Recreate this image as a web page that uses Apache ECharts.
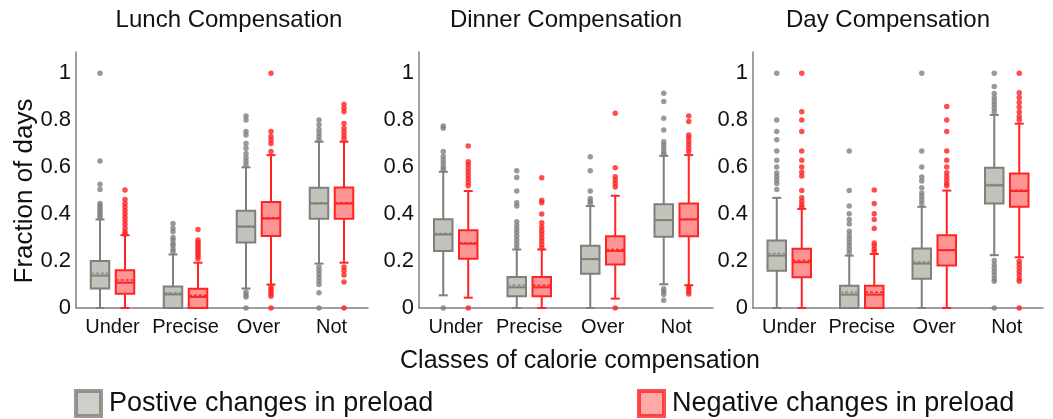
<!DOCTYPE html>
<html>
<head>
<meta charset="utf-8">
<script src="https://cdn.jsdelivr.net/npm/echarts@6/dist/echarts.min.js"></script>
<style>html,body{margin:0;padding:0;background:#fff;}#c{width:1053px;height:419px;}</style>
</head>
<body>
<div id="c"></div>
<script>
const categories = ['Under', 'Precise', 'Over', 'Not'];
const panelTitles = ['Lunch Compensation', 'Dinner Compensation', 'Day Compensation'];
const yTicks = [0, 0.2, 0.4, 0.6, 0.8, 1];
const POS = 'Postive changes in preload';
const NEG = 'Negative changes in preload';

// stats per category: [low whisker, Q1, median, Q3, high whisker, mean]
const lunchPos = [[0, 0.083, 0.138, 0.200, 0.377, 0.148], [0, 0, 0.058, 0.092, 0.228, 0.065], [0.083, 0.279, 0.347, 0.414, 0.599, 0.345], [0.189, 0.380, 0.445, 0.512, 0.708, 0.448]];
const lunchNeg = [[0, 0.061, 0.108, 0.161, 0.310, 0.119], [0, 0, 0.047, 0.082, 0.193, 0.054], [0.100, 0.307, 0.381, 0.451, 0.651, 0.384], [0.193, 0.380, 0.445, 0.513, 0.708, 0.448]];
const dinnerPos = [[0.054, 0.243, 0.313, 0.378, 0.580, 0.317], [0, 0.050, 0.088, 0.132, 0.249, 0.098], [0, 0.146, 0.208, 0.265, 0.434, 0.209], [0.101, 0.303, 0.374, 0.442, 0.648, 0.375]];
const dinnerNeg = [[0.044, 0.210, 0.274, 0.331, 0.498, 0.277], [0, 0.050, 0.088, 0.132, 0.249, 0.097], [0.040, 0.185, 0.243, 0.306, 0.478, 0.249], [0.097, 0.306, 0.377, 0.445, 0.651, 0.378]];
const dayPos = [[0, 0.159, 0.223, 0.287, 0.469, 0.232], [0, 0, 0.057, 0.095, 0.223, 0.067], [0, 0.125, 0.189, 0.253, 0.431, 0.196], [0.225, 0.445, 0.522, 0.597, 0.822, 0.526]];
const dayNeg = [[0, 0.131, 0.195, 0.252, 0.422, 0.202], [0, 0, 0.057, 0.095, 0.230, 0.067], [0, 0.181, 0.246, 0.310, 0.500, 0.248], [0.216, 0.431, 0.498, 0.573, 0.785, 0.501]];

// outliers per category
const lunchPosOut = [[1.0, 0.626, 0.527, 0.505, 0.445, 0.435, 0.425, 0.415, 0.405, 0.395, 0.385], [0.36, 0.34, 0.325, 0.30, 0.29, 0.275, 0.265, 0.25, 0.24], [0.818, 0.80, 0.751, 0.737, 0.70, 0.68, 0.658, 0.64, 0.625, 0.61, 0.068, 0.055, 0.047, 0], [0.80, 0.78, 0.76, 0.745, 0.73, 0.715, 0.175, 0.16, 0.145, 0.13, 0.115, 0.10, 0.065, 0]];
const lunchNegOut = [[0.502, 0.462, 0.445, 0.43, 0.415, 0.40, 0.385, 0.37, 0.355, 0.34, 0.325, 0.315], [0.334, 0.289, 0.28, 0.27, 0.26, 0.25, 0.24, 0.23, 0.22, 0.21], [1.0, 0.751, 0.73, 0.715, 0.70, 0.666, 0.09, 0.08, 0.07, 0.06, 0.05, 0], [0.867, 0.85, 0.836, 0.786, 0.765, 0.75, 0.735, 0.72, 0.175, 0.16, 0.14, 0.111, 0]];
const dinnerPosOut = [[0.775, 0.765, 0.666, 0.645, 0.63, 0.615, 0.60, 0.59, 0], [0.584, 0.556, 0.498, 0.448, 0.434, 0.367, 0.35, 0.335, 0.32, 0.305, 0.29, 0.275, 0.26], [0.644, 0.584, 0.498, 0.466, 0.455, 0.445], [0.914, 0.879, 0.808, 0.758, 0.708, 0.695, 0.68, 0.665, 0.655, 0.082, 0.07, 0.058, 0.033]];
const dinnerNegOut = [[0.69, 0.623, 0.61, 0.595, 0.58, 0.565, 0.55, 0.535, 0.52, 0], [0.555, 0.459, 0.448, 0.40, 0.363, 0.345, 0.33, 0.315, 0.30, 0.285, 0.27, 0.255], [0.829, 0.597, 0.559, 0.545, 0.53, 0.515, 0], [0.818, 0.794, 0.737, 0.725, 0.71, 0.695, 0.68, 0.665, 0.09, 0.08, 0.07, 0.06]];
const dayPosOut = [[1.0, 0.80, 0.751, 0.716, 0.669, 0.629, 0.60, 0.575, 0.56, 0.545, 0.53, 0.505], [0.669, 0.50, 0.434, 0.401, 0.377, 0.358, 0.327, 0.31, 0.295, 0.28, 0.265, 0.25, 0.235], [1.0, 0.669, 0.60, 0.558, 0.541, 0.512, 0.49, 0.475, 0.46, 0.445], [1.0, 0.943, 0.913, 0.895, 0.88, 0.865, 0.85, 0.835, 0.202, 0.185, 0.17, 0.155, 0.14, 0.125, 0.114, 0]];
const dayNegOut = [[1.0, 0.836, 0.80, 0.751, 0.669, 0.629, 0.60, 0.579, 0.562, 0.50, 0.469, 0.455, 0.44, 0.43], [0.502, 0.445, 0.401, 0.377, 0.339, 0.277, 0.265, 0.25, 0.24], [0.858, 0.80, 0.751, 0.669, 0.629, 0.60, 0.576, 0.56, 0.545, 0.53, 0.52], [1.0, 0.917, 0.896, 0.875, 0.855, 0.835, 0.815, 0.80, 0.199, 0.185, 0.17, 0.155, 0.14, 0.125, 0.114, 0]];

const panels = [
  {pos: lunchPos, neg: lunchNeg, posOut: lunchPosOut, negOut: lunchNegOut},
  {pos: dinnerPos, neg: dinnerNeg, posOut: dinnerPosOut, negOut: dinnerNegOut},
  {pos: dayPos, neg: dayNeg, posOut: dayPosOut, negOut: dayNegOut}
];

const FONT = '"Liberation Sans", Arial, Helvetica, sans-serif';
const grids = [
  {left: 76, top: 52, width: 292, height: 256},
  {left: 419, top: 52, width: 294, height: 256},
  {left: 753, top: 52, width: 290, height: 256}
];
const titleX = [229, 566, 888];

const styles = {
  pos: {stroke: '#7f7f7b', fill: '#c2c3bb', mean: '#8c8c88', dot: '#7f7f7b', off: -12.5},
  neg: {stroke: '#ff2424', fill: '#ff9494', mean: '#ff2424', dot: '#ff2020', off: 12.5}
};
const BOXW = 18.5, CAPW = 9;

function boxRenderer(st) {
  return function (params, api) {
    const i = api.value(0);
    const cx = api.coord([i, 0])[0] + st.off;
    const yLo = api.coord([i, api.value(1)])[1];
    const yQ1 = api.coord([i, api.value(2)])[1];
    const yMed = api.coord([i, api.value(3)])[1];
    const yQ3 = api.coord([i, api.value(4)])[1];
    const yHi = api.coord([i, api.value(5)])[1];
    const yMean = api.coord([i, api.value(6)])[1];
    const ls = {stroke: st.stroke, lineWidth: 2};
    return {
      type: 'group',
      children: [
        {type: 'line', shape: {x1: cx, y1: yQ1, x2: cx, y2: yLo}, style: ls},
        {type: 'line', shape: {x1: cx, y1: yQ3, x2: cx, y2: yHi}, style: ls},
        {type: 'line', shape: {x1: cx - CAPW / 2, y1: yLo, x2: cx + CAPW / 2, y2: yLo}, style: ls},
        {type: 'line', shape: {x1: cx - CAPW / 2, y1: yHi, x2: cx + CAPW / 2, y2: yHi}, style: ls},
        {type: 'rect', shape: {x: cx - BOXW / 2, y: yQ3, width: BOXW, height: yQ1 - yQ3}, style: {fill: st.fill, stroke: st.stroke, lineWidth: 2}},
        {type: 'line', shape: {x1: cx - BOXW / 2, y1: yMean, x2: cx + BOXW / 2, y2: yMean}, style: {stroke: st.mean, lineWidth: 1.5, lineDash: [3, 2]}},
        {type: 'line', shape: {x1: cx - BOXW / 2, y1: yMed, x2: cx + BOXW / 2, y2: yMed}, style: {stroke: st.stroke, lineWidth: 2}}
      ]
    };
  };
}

const series = [];
panels.forEach(function (p, k) {
  [['pos', POS], ['neg', NEG]].forEach(function (g) {
    const st = styles[g[0]];
    const stats = p[g[0]];
    const outs = p[g[0] + 'Out'];
    const outData = [];
    outs.forEach(function (list, i) { list.forEach(function (v) { outData.push([i, v]); }); });
    series.push({
      type: 'scatter', name: g[1], xAxisIndex: k, yAxisIndex: k,
      data: outData, symbol: 'circle', symbolSize: 5.5, symbolOffset: [st.off, 0],
      itemStyle: {color: st.dot}, silent: true, z: 2
    });
    series.push({
      type: 'custom', name: g[1], xAxisIndex: k, yAxisIndex: k,
      data: stats.map(function (s, i) { return [i].concat(s); }),
      encode: {x: 0, y: [1, 2, 3, 4, 5, 6]},
      renderItem: boxRenderer(st), itemStyle: {color: st.fill, borderColor: st.stroke},
      silent: true, clip: false, z: 3
    });
  });
});

const option = {
  animation: false,
  textStyle: {fontFamily: FONT},
  grid: grids,
  xAxis: grids.map(function (g, k) {
    return {
      type: 'category', gridIndex: k, data: categories,
      axisTick: {show: false},
      axisLine: {lineStyle: {color: '#808080', width: 1.5}},
      axisLabel: {fontSize: 20, color: '#111', margin: 9, fontFamily: FONT, interval: 0},
      splitLine: {show: false}
    };
  }),
  yAxis: grids.map(function (g, k) {
    return {
      type: 'value', gridIndex: k, min: 0, max: 1.09, interval: 0.2,
      axisTick: {show: false},
      axisLine: {show: true, lineStyle: {color: '#808080', width: 1.5}},
      splitLine: {show: false},
      axisLabel: {
        fontSize: 22, color: '#111', margin: 5, fontFamily: FONT,
        formatter: function (v) {
          for (let t of yTicks) { if (Math.abs(v - t) < 1e-6) return String(t); }
          return '';
        }
      }
    };
  }),
  legend: [
    {left: 74, top: 389, padding: 0, itemWidth: 25, itemHeight: 25, selectedMode: false,
      data: [{name: POS, icon: 'rect', itemStyle: {color: '#c2c3bb', borderColor: '#7f7f7b', borderWidth: 4}}],
      textStyle: {fontSize: 27, color: '#111', fontFamily: FONT, padding: [0, 0, 0, 3]}},
    {left: 637, top: 389, padding: 0, itemWidth: 25, itemHeight: 25, selectedMode: false,
      data: [{name: NEG, icon: 'rect', itemStyle: {color: '#ff9494', borderColor: '#ff2424', borderWidth: 4}}],
      textStyle: {fontSize: 27, color: '#111', fontFamily: FONT, padding: [0, 0, 0, 3]}}
  ],
  graphic: panelTitles.map(function (t, k) {
    return {type: 'text', x: titleX[k], y: 20, style: {text: t, font: '24px ' + FONT, fill: '#111', textAlign: 'center', textVerticalAlign: 'middle'}};
  }).concat([
    {type: 'text', x: 25, y: 191, rotation: Math.PI / 2, style: {text: 'Fraction of days', font: '26px ' + FONT, fill: '#111', textAlign: 'center', textVerticalAlign: 'middle'}},
    {type: 'text', x: 580, y: 361, style: {text: 'Classes of calorie compensation', font: '25px ' + FONT, fill: '#111', textAlign: 'center', textVerticalAlign: 'middle'}}
  ]),
  series: series
};

const chart = echarts.init(document.getElementById('c'), null, {renderer: 'canvas'});
chart.setOption(option);
</script>
</body>
</html>
